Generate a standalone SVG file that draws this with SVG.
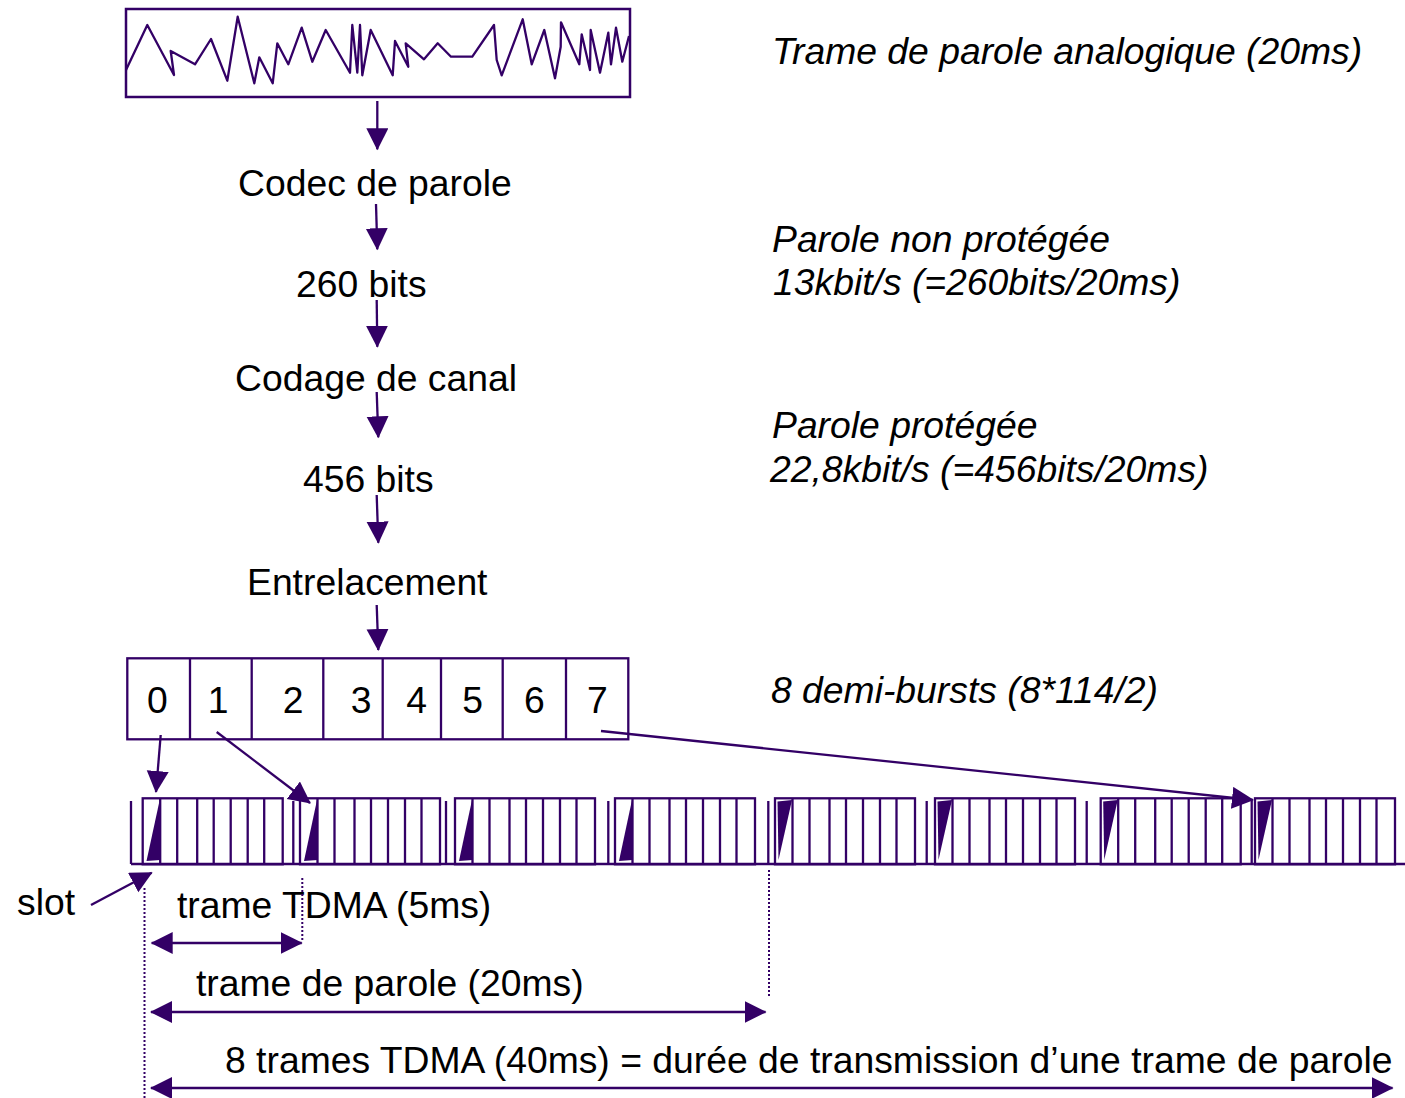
<svg xmlns="http://www.w3.org/2000/svg" width="1405" height="1098" viewBox="0 0 1405 1098">
  <style>
    .ln { stroke: #330066; stroke-width: 2.3; fill: none; }
    .box { stroke: #330066; stroke-width: 2.5; fill: #ffffff; }
    .dot { stroke: #330066; stroke-width: 2; fill: none; stroke-dasharray: 2 2; }
    .tri { fill: #330066; stroke: none; }
    text { font-family: "Liberation Sans", Arial, sans-serif; font-size: 37.3px; fill: #000000; }
    .it { font-style: italic; }
    .mid { text-anchor: middle; }
  </style>
  <defs>
    <marker id="ah" markerUnits="userSpaceOnUse" markerWidth="24" markerHeight="24" refX="21" refY="11" orient="auto-start-reverse">
      <path d="M0,0 L22,11 L0,22 z" fill="#330066"/>
    </marker>
    <!-- one TDMA frame: 8 slots, first slot marked -->
    <g id="frame">
      <rect class="ln" x="0" y="0" width="140" height="66"/>
      <path class="ln" d="M17.5,0V66 M34.5,0V66 M54.5,0V66 M71,0V66 M88,0V66 M105,0V66 M121.5,0V66"/>
    </g>
  </defs>

  <!-- analog speech frame -->
  <g id="speech-frame">
    <rect class="box" x="126" y="9" width="504" height="88"/>
    <polyline class="ln" stroke-width="2.8" stroke-linejoin="round" points="126,70 147.3,25 174,75 170.7,51 195,64.3 211,39 227.3,80.7 237.7,16.7 254.3,83.3 259.3,57.3 272.7,83.3 277.3,43.3 288.3,64.3 301.7,27.7 312.3,61.7 325.7,30 350,72.7 352.3,25 357.3,72.7 360,25 362.3,75.3 370.7,30 392.7,75.3 395,41 408.3,66.7 405.7,43.3 424,59.3 437.7,43.3 451,56.7 472.3,56.7 494,25 496.7,60 501.7,75.3 522.7,19.3 531.7,64.3 544.3,30 555,78.3 560.7,46.7 561,22.3 579.3,64.3 581.7,34.3 590,70 590.7,30 600,72.7 608.3,32.7 611,64.3 616,27.7 622.3,61.7 629,36"/>
  </g>

  <!-- processing chain -->
  <g id="codec"><text x="238" y="196">Codec de parole</text></g>
  <g id="bits260"><text x="296" y="297">260 bits</text></g>
  <g id="channel-coding"><text x="235" y="391">Codage de canal</text></g>
  <g id="bits456"><text x="303" y="492">456 bits</text></g>
  <g id="interleaving"><text x="247" y="595">Entrelacement</text></g>

  <!-- right-hand annotations -->
  <g id="notes">
    <text class="it" x="772" y="64">Trame de parole analogique (20ms)</text>
    <text class="it" x="772" y="252">Parole non protégée</text>
    <text class="it" x="773" y="295">13kbit/s (=260bits/20ms)</text>
    <text class="it" x="772" y="438">Parole protégée</text>
    <text class="it" x="770" y="482">22,8kbit/s (=456bits/20ms)</text>
    <text class="it" x="771" y="703">8 demi-bursts (8*114/2)</text>
  </g>

  <!-- 8 half-bursts block -->
  <g id="half-bursts">
    <rect class="ln" x="127.3" y="658.3" width="501" height="81"/>
    <path class="ln" d="M190,658.3V739.3 M251.7,658.3V739.3 M323.3,658.3V739.3 M382.7,658.3V739.3 M441,658.3V739.3 M502.7,658.3V739.3 M566,658.3V739.3"/>
    <text class="mid" x="157.3" y="713">0</text>
    <text class="mid" x="218" y="713">1</text>
    <text class="mid" x="293" y="713">2</text>
    <text class="mid" x="361" y="713">3</text>
    <text class="mid" x="416.7" y="713">4</text>
    <text class="mid" x="472.7" y="713">5</text>
    <text class="mid" x="534.3" y="713">6</text>
    <text class="mid" x="597.3" y="713">7</text>
  </g>

  <!-- TDMA frames along the time axis -->
  <g id="tdma">
    <line class="ln" x1="131" y1="864" x2="1405" y2="864"/>
    <path class="ln" d="M131,801V864 M293.3,801V864 M446,801V864 M608.3,801V864 M768.3,801V864 M926.7,801V864 M1086.7,801V864 M1251.7,801V864"/>
    <use href="#frame" x="142.7" y="798.3"/>
    <use href="#frame" x="300" y="798.3"/>
    <use href="#frame" x="455" y="798.3"/>
    <use href="#frame" x="615" y="798.3"/>
    <use href="#frame" x="775" y="798.3"/>
    <use href="#frame" x="935" y="798.3"/>
    <use href="#frame" x="1100.7" y="798.3"/>
    <use href="#frame" x="1255" y="798.3"/>
    <polygon class="tri" points="146.5,861 159.7,800 160.2,860"/>
    <polygon class="tri" points="304,861 317,800 317.5,860"/>
    <polygon class="tri" points="459,861 472,800 472.5,860"/>
    <polygon class="tri" points="619,861 632,800 632.5,860"/>
    <polygon class="tri" points="777.5,801.5 792,800 778.5,860"/>
    <polygon class="tri" points="937.5,801.5 952,800 938.5,860"/>
    <polygon class="tri" points="1103.2,801.5 1117.7,800 1104.2,860"/>
    <polygon class="tri" points="1257.5,801.5 1272,800 1258.5,860"/>
  </g>

  <!-- time scale labels -->
  <g id="slot-label"><text x="17" y="915">slot</text></g>
  <g id="tdma-label"><text x="177" y="918">trame TDMA (5ms)</text></g>
  <g id="speech-label"><text x="196" y="996">trame de parole (20ms)</text></g>
  <g id="total-label"><text x="225" y="1073">8 trames TDMA (40ms) = durée de transmission d’une trame de parole</text></g>

  <!-- connectors -->
  <g id="connectors">
    <line class="ln" x1="377.3" y1="101" x2="377.3" y2="149.3" marker-end="url(#ah)"/>
    <line class="ln" x1="376" y1="204" x2="377.3" y2="249.3" marker-end="url(#ah)"/>
    <line class="ln" x1="376.7" y1="300" x2="377.3" y2="346.7" marker-end="url(#ah)"/>
    <line class="ln" x1="376.7" y1="392" x2="378.3" y2="437.3" marker-end="url(#ah)"/>
    <line class="ln" x1="376.7" y1="495" x2="378.3" y2="542.7" marker-end="url(#ah)"/>
    <line class="ln" x1="376.7" y1="605" x2="378.3" y2="650" marker-end="url(#ah)"/>

    <line class="ln" x1="160.7" y1="735" x2="156" y2="792" marker-end="url(#ah)"/>
    <line class="ln" x1="216.7" y1="732" x2="310" y2="803" marker-end="url(#ah)"/>
    <line class="ln" x1="601" y1="731" x2="1253" y2="800" marker-end="url(#ah)"/>

    <line class="ln" x1="91" y1="905" x2="151.7" y2="872.7" marker-end="url(#ah)"/>

    <line class="dot" x1="144.5" y1="888" x2="144.5" y2="1098"/>
    <line class="dot" x1="302.3" y1="878" x2="302.3" y2="942"/>
    <line class="dot" x1="769" y1="870" x2="769" y2="996"/>

    <line class="ln" x1="151.7" y1="943" x2="301.7" y2="943" marker-start="url(#ah)" marker-end="url(#ah)"/>
    <line class="ln" x1="151" y1="1012" x2="765.5" y2="1012" marker-start="url(#ah)" marker-end="url(#ah)"/>
    <line class="ln" x1="151" y1="1088" x2="1392.5" y2="1088" marker-start="url(#ah)" marker-end="url(#ah)"/>
  </g>
</svg>
